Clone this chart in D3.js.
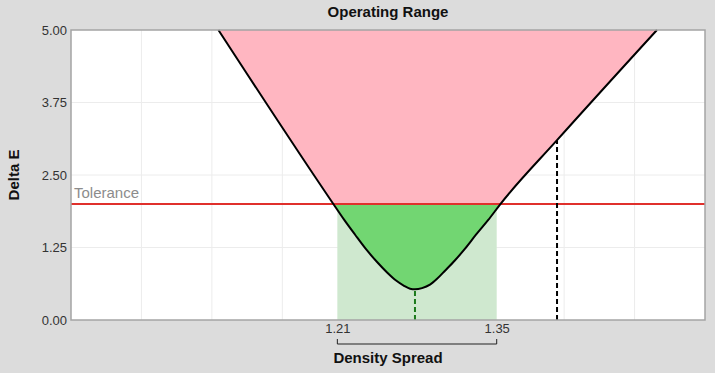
<!DOCTYPE html>
<meta charset="utf-8">

<style>
  body {
    margin: 0;
    background: #dcdcdc;
  }
  svg {
    display: block;
    font-family: Arial, "Liberation Sans", sans-serif;
  }
  .grid line {
    stroke: #ececec;
    stroke-width: 1px;
  }
  .tick text {
    font-size: 13px;
    fill: #333;
  }
  .label {
    font-size: 15px;
    font-weight: bold;
    fill: #111;
  }
</style>

<body>
  <svg width="715" height="373"></svg>

  <script src="https://cdn.jsdelivr.net/npm/d3@7"></script>
  <script>

      // curve: density spread vs delta E
      var spread = [1.1055, 1.2065, 1.2159, 1.2256, 1.2352, 1.2449, 1.2537, 1.2616, 1.2686, 1.2739, 1.2782,
                    1.2844, 1.2914, 1.2976, 1.3046, 1.3134, 1.3222, 1.3318, 1.3424, 1.3529, 1.4030, 1.4908];
      var deltaE = [5.00, 2.00, 1.73, 1.47, 1.22, 1.00, 0.82, 0.68, 0.59, 0.54, 0.53,
                    0.55, 0.61, 0.71, 0.85, 1.03, 1.23, 1.47, 1.72, 1.99, 3.10, 5.00];
      var yTicks = [0, 1.25, 2.5, 3.75, 5];
      var rangeTicks = [1.21, 1.35];   // operating range shown under the axis
      var tolerance = 2.0;
      var minimum = { x: 1.2782, y: 0.53 };
      var current = { x: 1.4030, y: 3.10 };

      var points = spread.map(function(d, i) { return { x: d, y: deltaE[i] }; });

      var svg = d3.select("svg");
      var m = { left: 71, right: 705, top: 30, bottom: 320 };

      var x = d3.scaleLinear().domain([0.976, 1.533]).range([m.left, m.right]);
      var y = d3.scaleLinear().domain([0, 5]).range([m.bottom, m.top]);

      // plot background
      svg.append("rect")
        .attr("x", m.left).attr("y", m.top)
        .attr("width", m.right - m.left).attr("height", m.bottom - m.top)
        .attr("fill", "#fff");

      // grid
      var grid = svg.append("g").attr("class", "grid");
      grid.selectAll(".v")
        .data(d3.range(1, 9).map(function(i) { return x.domain()[0] + i * (x.domain()[1] - x.domain()[0]) / 9; }))
        .enter().append("line")
          .attr("x1", function(d) { return x(d); })
          .attr("x2", function(d) { return x(d); })
          .attr("y1", m.top).attr("y2", m.bottom);
      grid.selectAll(".h")
        .data(yTicks.slice(1, -1))
        .enter().append("line")
          .attr("x1", m.left).attr("x2", m.right)
          .attr("y1", function(d) { return y(d); })
          .attr("y2", function(d) { return y(d); });

      // light band for the operating range
      svg.append("rect")
        .attr("x", x(rangeTicks[0]))
        .attr("y", y(tolerance))
        .attr("width", x(rangeTicks[1]) - x(rangeTicks[0]))
        .attr("height", y(0) - y(tolerance))
        .attr("fill", "#cfe8cf");

      // clips above / below tolerance
      var defs = svg.append("defs");
      defs.append("clipPath").attr("id", "above")
        .append("rect")
          .attr("x", m.left).attr("y", m.top)
          .attr("width", m.right - m.left).attr("height", y(tolerance) - m.top);
      defs.append("clipPath").attr("id", "below")
        .append("rect")
          .attr("x", m.left).attr("y", y(tolerance))
          .attr("width", m.right - m.left).attr("height", m.bottom - y(tolerance));

      var inside = d3.area()
        .x(function(d) { return x(d.x); })
        .y0(function(d) { return y(d.y); })
        .y1(y(5))
        .curve(d3.curveMonotoneX);

      svg.append("path")
        .datum(points)
        .attr("d", inside)
        .attr("fill", "#ffb6c1")
        .attr("clip-path", "url(#above)");
      svg.append("path")
        .datum(points)
        .attr("d", inside)
        .attr("fill", "#72d672")
        .attr("clip-path", "url(#below)");

      // tolerance line + label
      svg.append("line")
        .attr("x1", m.left).attr("x2", m.right)
        .attr("y1", y(tolerance)).attr("y2", y(tolerance))
        .attr("stroke", "#e0302c")
        .attr("stroke-width", 2);
      svg.append("text")
        .attr("x", m.left + 3)
        .attr("y", y(tolerance) - 6)
        .attr("font-size", "15px")
        .attr("fill", "#8c8c8c")
        .text("Tolerance");

      // markers
      svg.append("line")
        .attr("x1", x(minimum.x)).attr("x2", x(minimum.x))
        .attr("y1", y(0)).attr("y2", y(minimum.y))
        .attr("stroke", "#1a7a1a")
        .attr("stroke-width", 2)
        .attr("stroke-dasharray", "5,3");
      svg.append("line")
        .attr("x1", x(current.x)).attr("x2", x(current.x))
        .attr("y1", y(0)).attr("y2", y(current.y))
        .attr("stroke", "#000")
        .attr("stroke-width", 2)
        .attr("stroke-dasharray", "5,3");

      // curve
      svg.append("path")
        .datum(points)
        .attr("d", d3.line()
          .x(function(d) { return x(d.x); })
          .y(function(d) { return y(d.y); })
          .curve(d3.curveMonotoneX))
        .attr("fill", "none")
        .attr("stroke", "#000")
        .attr("stroke-width", 2);

      // frame
      svg.append("rect")
        .attr("x", m.left).attr("y", m.top)
        .attr("width", m.right - m.left).attr("height", m.bottom - m.top)
        .attr("fill", "none")
        .attr("stroke", "#a4a4a4")
        .attr("stroke-width", 1.5);

      // y axis labels
      svg.append("g")
        .attr("transform", "translate(" + m.left + ",0)")
        .call(d3.axisLeft(y).tickValues(yTicks).tickFormat(d3.format(".2f")).tickSize(0).tickPadding(4))
        .call(function(g) { g.select(".domain").remove(); });

      // operating range labels + bracket
      svg.append("g")
        .attr("transform", "translate(0," + m.bottom + ")")
        .call(d3.axisBottom(x).tickValues(rangeTicks).tickFormat(d3.format(".2f")).tickSize(0).tickPadding(4))
        .call(function(g) { g.select(".domain").remove(); });
      svg.append("path")
        .attr("d", "M" + x(rangeTicks[0]) + ",339V344H" + x(rangeTicks[1]) + "V339")
        .attr("fill", "none")
        .attr("stroke", "#222")
        .attr("stroke-width", 1);

      // titles
      svg.append("text")
        .attr("class", "label")
        .attr("x", (m.left + m.right) / 2)
        .attr("y", 17)
        .attr("text-anchor", "middle")
        .text("Operating Range");
      svg.append("text")
        .attr("class", "label")
        .attr("x", (m.left + m.right) / 2)
        .attr("y", 363)
        .attr("text-anchor", "middle")
        .text("Density Spread");
      svg.append("text")
        .attr("class", "label")
        .attr("transform", "translate(19," + (m.top + m.bottom) / 2 + ") rotate(-90)")
        .attr("text-anchor", "middle")
        .text("Delta E");

  </script>
</body>
